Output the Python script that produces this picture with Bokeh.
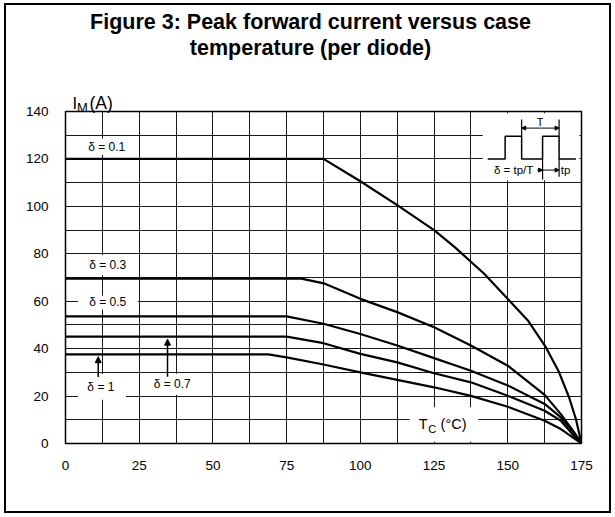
from bokeh.plotting import figure
from bokeh.models import (Label, Arrow, NormalHead, FixedTicker, Range1d)
from bokeh.embed import file_html
from bokeh.resources import INLINE

# ---------------- data ----------------
title_lines = ["Figure 3: Peak forward current versus case", "temperature (per diode)"]
x_ticks = [0, 25, 50, 75, 100, 125, 150, 175]
y_ticks = [0, 20, 40, 60, 80, 100, 120, 140]

temps_d01 = [0, 87.5, 100, 112.5, 125, 132, 142, 150.5, 156.8, 162.9, 167.4, 170.8, 173.1, 175]
curr_d01 = [120, 120, 110.6, 100.5, 90, 82.8, 71.6, 60.3, 51.9, 40.6, 30, 19.4, 10.3, 0]
temps_d03 = [0, 80, 88, 100, 112.5, 125, 137.5, 150, 162.5, 168, 172.5, 175]
curr_d03 = [69.5, 69.5, 67.4, 61, 55.4, 49, 41.3, 32.8, 20.5, 12.4, 4.7, 0]
temps_d05 = [0, 75, 87.5, 100, 112.5, 125, 137.5, 150, 162.5, 168, 172.5, 175]
curr_d05 = [53.6, 53.6, 50.5, 46.2, 41.3, 36, 30.7, 24.5, 16.7, 11, 4.5, 0]
temps_d07 = [0, 75, 87.5, 100, 112.5, 125, 137.5, 150, 162.5, 168, 172.5, 175]
curr_d07 = [45.1, 45.1, 42.3, 37.8, 34.2, 29.6, 25.8, 20.1, 13.8, 9.6, 3.2, 0]
temps_d1 = [0, 68.75, 75, 87.5, 100, 112.5, 125, 137.5, 150, 162.5, 168, 172.5, 175]
curr_d1 = [37.6, 37.6, 36.3, 33.3, 30, 26.8, 23.7, 20.1, 15.5, 9.6, 6.1, 2.2, 0]

series_labels = ["δ = 0.1", "δ = 0.3", "δ = 0.5", "δ = 0.7", "δ = 1"]

# inset pulse diagram (duty cycle definition)
pulse_t = [143.2, 149.1, 149.1, 154.7, 154.7, 161.8, 161.8, 167.4, 167.4, 173.1]
pulse_i = [120, 120, 129.6, 129.6, 120, 120, 129.6, 129.6, 120, 120]

FONT = "Liberation Sans"
INK = "black"

p = figure(width=607, height=510, output_backend="svg", toolbar_location=None,
           x_range=Range1d(0, 175), y_range=Range1d(0, 140),
           min_border_left=57, min_border_right=32, min_border_top=106,
           min_border_bottom=72)
p.styles = {"margin-left": "4px", "margin-top": "3px", "border": "2px solid black"}
p.background_fill_color = "white"
p.border_fill_color = "white"
p.outline_line_color = "black"
p.outline_line_width = 1.5

# axes: only tick labels visible
p.xaxis.ticker = FixedTicker(ticks=x_ticks, minor_ticks=[12.5, 37.5, 62.5, 87.5, 112.5, 137.5, 162.5])
p.yaxis.ticker = FixedTicker(ticks=y_ticks, minor_ticks=[10, 30, 50, 70, 90, 110, 130])
for ax in (p.xaxis[0], p.yaxis[0]):
    ax.axis_line_color = None
    ax.major_tick_line_color = None
    ax.minor_tick_line_color = None
    ax.major_label_text_font = FONT
    ax.major_label_text_font_size = "13.5px"
    ax.major_label_text_color = INK
p.xaxis.major_label_standoff = 11
p.yaxis.major_label_standoff = 11

for g in (p.xgrid[0], p.ygrid[0]):
    g.grid_line_color = "#1a1a1a"
    g.grid_line_width = 1
    g.minor_grid_line_color = "#1a1a1a"
    g.minor_grid_line_width = 1

# white boxes that interrupt the grid behind the annotation texts
box_left = [5, 4.5, 4.2, 4.2, 28.5, 116.7, 141.5]
box_right = [22.5, 23.5, 24.5, 20.5, 43.5, 140, 174.3]
box_bottom = [121.7, 71, 56.5, 18.5, 20.6, 0.7, 111]
box_top = [128.5, 79.5, 62.3, 29.3, 29.4, 15.3, 139.3]
p.quad(left=box_left, right=box_right, bottom=box_bottom, top=box_top,
       fill_color="white", line_color=None)

# curves
for t, c in [(temps_d01, curr_d01), (temps_d03, curr_d03), (temps_d05, curr_d05),
             (temps_d07, curr_d07), (temps_d1, curr_d1)]:
    p.line(t, c, line_color="black", line_width=2.2, line_join="round")


def lab(x, y, text, size, align="center", **kw):
    return Label(x=x, y=y, text=text, text_align=align, text_baseline="middle",
                 text_font=FONT, text_font_size=size, text_color=INK, **kw)


# series labels
label_pos = [(14, 124.9), (14.3, 75.2), (14.3, 59.5), (36.2, 25.1), (12, 23.7)]
for txt, (x, y) in zip(series_labels, label_pos):
    p.add_layout(lab(x, y, txt, "12px"))

# arrows for delta = 1 and delta = 0.7
p.add_layout(Arrow(x_start=11.1, y_start=28.0, x_end=11.1, y_end=36.6, line_width=1.5,
                   end=NormalHead(size=6, fill_color="black", line_color="black")))
p.add_layout(Arrow(x_start=34.6, y_start=28.2, x_end=34.6, y_end=44.0, line_width=1.5,
                   end=NormalHead(size=6, fill_color="black", line_color="black")))

# inset pulse diagram
p.line(pulse_t, pulse_i, line_color="black", line_width=1.5)
p.segment(x0=[154.7, 167.4, 161.8, 167.4], y0=[129.6, 129.6, 120, 120],
          x1=[154.7, 167.4, 161.8, 167.4], y1=[136.6, 136.6, 111.3, 112.5],
          line_color="black", line_width=1.2)
p.add_layout(Arrow(x_start=161.0, y_start=133.0, x_end=167.4, y_end=133.0, line_width=1,
                   end=NormalHead(size=4, fill_color="black", line_color="black")))
p.add_layout(Arrow(x_start=161.0, y_start=133.0, x_end=154.7, y_end=133.0, line_width=1,
                   end=NormalHead(size=4, fill_color="black", line_color="black")))
p.add_layout(Arrow(x_start=161.8, y_start=115.3, x_end=167.4, y_end=115.3, line_width=1,
                   end=NormalHead(size=4, fill_color="black", line_color="black")))
p.add_layout(Arrow(x_start=160.0, y_start=115.3, x_end=161.8, y_end=115.3, line_width=1,
                   end=NormalHead(size=4, fill_color="black", line_color="black")))
p.add_layout(lab(161.0, 135.6, "T", "11px"))
p.add_layout(lab(152.0, 115.3, "δ = tp/T", "11.5px"))
p.add_layout(lab(168.0, 115.3, "tp", "11.5px", align="left"))

# x axis title inside the frame
p.add_layout(lab(119.8, 8.2, "T", "14.5px", align="left"))
p.add_layout(lab(123.0, 6.0, "C", "11px", align="left"))
p.add_layout(lab(127.2, 8.2, "(°C)", "14.5px", align="left"))

# texts outside the frame: placed in side panels, positioned in canvas pixels
outside = [
    (title_lines[0], 302, 14, "21.5px", "bold", "center", "above"),
    (title_lines[1], 302, 40.5, "21.5px", "bold", "center", "above"),
    ("(A)", 81.0, 95, "17.5px", "normal", "left", "above"),
    ("I", 64.0, 95, "16.5px", "normal", "left", "left"),
    ("M", 68.5, 100, "13px", "normal", "left", "left"),
]
for txt, cx, cy, fs, fw, al, side in outside:
    p.add_layout(Label(x=cx, y=cy, x_units="canvas", y_units="canvas", text=txt,
                       text_align=al, text_baseline="middle", text_font=FONT,
                       text_font_size=fs, text_font_style=fw, text_color=INK), side)

open("out.html", "w").write(file_html(p, INLINE))
